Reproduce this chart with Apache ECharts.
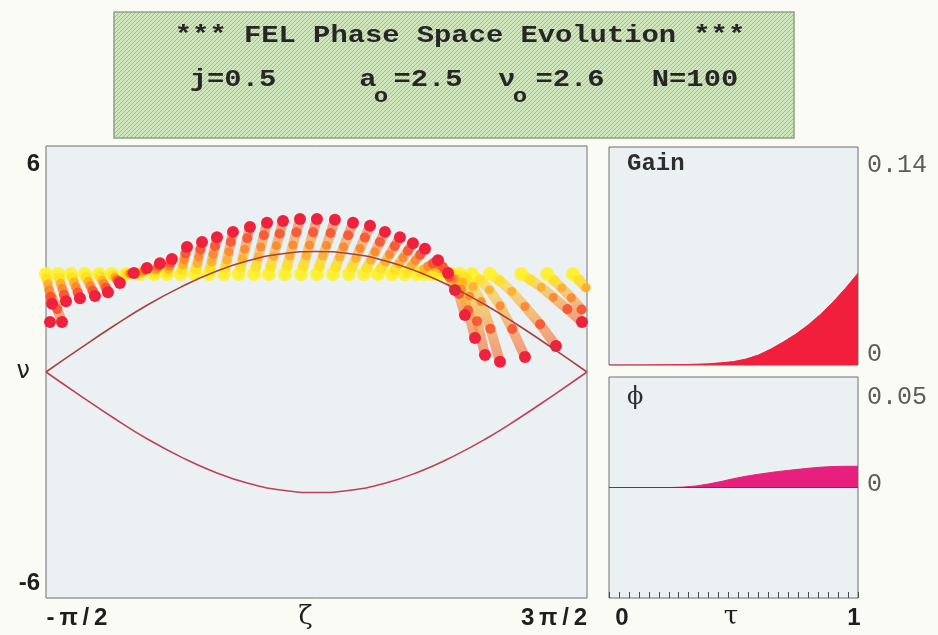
<!DOCTYPE html>
<html>
<head>
<meta charset="utf-8">
<script src="https://cdn.jsdelivr.net/npm/echarts@6/dist/echarts.min.js"></script>
<style>
  html, body { margin: 0; padding: 0; background: #fbfbf6; }
  #chart { width: 938px; height: 635px; }
</style>
</head>
<body>
<div id="chart"></div>
<script>
// ---- run parameters ----
const jCurrent = 0.5;
const a0 = 2.5;
const nu0 = 2.6;
const nSteps = 100;

// ---- phase-space axis range and tick labels ----
const ZETA_MIN = -Math.PI / 2;
const ZETA_MAX = 3 * Math.PI / 2;
const zetaTickLabels = ['-π/2', '3π/2'];
const nuTickLabels = ['-6', '6'];
const gainTickLabels = ['0', '0.14'];
const phiTickLabels = ['0', '0.05'];
const tauTickLabels = ['0', '1'];

// ---- separatrix ----
const sepZeta  = [-1.571, -1.178, -0.785, -0.393, 0, 0.393, 0.785, 1.178, 1.571, 1.963, 2.356, 2.749, 3.142, 3.534, 3.927, 4.320, 4.712];
const sepUpper = [0, 0.62, 1.22, 1.78, 2.26, 2.66, 2.96, 3.14, 3.20, 3.14, 2.96, 2.66, 2.26, 1.78, 1.22, 0.62, 0];
const sepLower = [0, -0.62, -1.22, -1.78, -2.26, -2.66, -2.96, -3.14, -3.20, -3.14, -2.96, -2.66, -2.26, -1.78, -1.22, -0.62, 0];

// ---- electron snapshots (phase ζ, energy ν) at successive times ----
const tauSteps = [0, 0.2, 0.4, 0.6, 0.8, 1.0];
const zetaT0 = [4.250, 4.550, -1.571, -1.431, -1.280, -1.118, -0.955, -0.804, -0.642, -0.479, -0.317, -0.166, -0.003, 0.160, 0.322, 0.496, 0.670, 0.845, 1.019, 1.205, 1.391, 1.576, 1.762, 1.948, 2.122, 2.285, 2.448, 2.598, 2.738, 2.831, 2.912, 3.005, 3.075, 3.144, 3.237, 3.377, 3.585, 3.950];
const zetaT1 = [4.330, 4.620, -1.560, -1.417, -1.264, -1.101, -0.939, -0.790, -0.628, -0.467, -0.307, -0.157, 0.008, 0.172, 0.336, 0.512, 0.689, 0.868, 1.043, 1.231, 1.419, 1.607, 1.797, 1.985, 2.159, 2.323, 2.484, 2.633, 2.775, 2.871, 2.952, 3.049, 3.126, 3.202, 3.307, 3.469, 3.700, 4.056];
const zetaT2 = [4.420, 4.700, -1.548, -1.401, -1.246, -1.080, -0.921, -0.774, -0.611, -0.452, -0.294, -0.147, 0.020, 0.187, 0.353, 0.531, 0.712, 0.895, 1.073, 1.262, 1.452, 1.645, 1.839, 2.029, 2.203, 2.369, 2.528, 2.675, 2.819, 2.919, 3.000, 3.101, 3.186, 3.271, 3.390, 3.580, 3.838, 4.182];
const zetaT3 = [4.530, -1.500, -1.534, -1.382, -1.225, -1.057, -0.900, -0.755, -0.593, -0.436, -0.280, -0.135, 0.034, 0.203, 0.371, 0.552, 0.738, 0.925, 1.105, 1.297, 1.489, 1.687, 1.885, 2.077, 2.251, 2.420, 2.577, 2.721, 2.867, 2.973, 3.054, 3.159, 3.254, 3.348, 3.483, 3.703, 3.992, 4.323];
const zetaT4 = [4.650, -1.440, -1.518, -1.361, -1.201, -1.030, -0.876, -0.734, -0.571, -0.417, -0.264, -0.122, 0.050, 0.222, 0.393, 0.576, 0.767, 0.960, 1.143, 1.337, 1.532, 1.735, 1.939, 2.133, 2.307, 2.479, 2.633, 2.775, 2.923, 3.034, 3.115, 3.225, 3.331, 3.436, 3.590, 3.844, 4.168, 4.485];
const zetaT5 = [-1.524, -1.385, -1.501, -1.339, -1.176, -1.002, -0.851, -0.712, -0.549, -0.398, -0.247, -0.108, 0.067, 0.241, 0.415, 0.601, 0.798, 0.996, 1.182, 1.379, 1.576, 1.785, 1.995, 2.192, 2.366, 2.540, 2.691, 2.831, 2.982, 3.098, 3.179, 3.295, 3.412, 3.528, 3.702, 3.992, 4.352, 4.654];

const nuT0 = [2.60, 2.60, 2.60, 2.60, 2.60, 2.60, 2.60, 2.60, 2.60, 2.60, 2.60, 2.60, 2.60, 2.60, 2.60, 2.60, 2.60, 2.60, 2.60, 2.60, 2.60, 2.60, 2.60, 2.60, 2.60, 2.60, 2.60, 2.60, 2.60, 2.60, 2.60, 2.60, 2.60, 2.60, 2.60, 2.60, 2.60, 2.60];
const nuT1 = [2.43, 2.44, 2.48, 2.49, 2.50, 2.51, 2.53, 2.56, 2.60, 2.62, 2.64, 2.66, 2.71, 2.73, 2.75, 2.77, 2.79, 2.80, 2.81, 2.82, 2.82, 2.82, 2.80, 2.79, 2.77, 2.75, 2.72, 2.70, 2.66, 2.70, 2.68, 2.64, 2.59, 2.55, 2.50, 2.45, 2.42, 2.45];
const nuT2 = [2.23, 2.24, 2.34, 2.36, 2.39, 2.41, 2.44, 2.52, 2.61, 2.65, 2.70, 2.73, 2.84, 2.88, 2.92, 2.97, 3.01, 3.05, 3.07, 3.08, 3.08, 3.08, 3.05, 3.02, 2.97, 2.92, 2.87, 2.82, 2.72, 2.80, 2.74, 2.62, 2.48, 2.38, 2.27, 2.18, 2.14, 2.25];
const nuT3 = [1.97, 1.98, 2.18, 2.22, 2.26, 2.29, 2.35, 2.47, 2.61, 2.68, 2.75, 2.81, 2.98, 3.05, 3.12, 3.19, 3.26, 3.32, 3.35, 3.37, 3.37, 3.36, 3.32, 3.28, 3.19, 3.12, 3.03, 2.96, 2.80, 2.86, 2.72, 2.47, 2.20, 2.02, 1.87, 1.76, 1.74, 1.98];
const nuT4 = [1.66, 1.67, 2.00, 2.05, 2.11, 2.16, 2.24, 2.42, 2.62, 2.72, 2.82, 2.90, 3.15, 3.25, 3.34, 3.45, 3.55, 3.63, 3.67, 3.71, 3.71, 3.69, 3.63, 3.57, 3.45, 3.34, 3.22, 3.11, 2.88, 2.80, 2.52, 2.07, 1.64, 1.35, 1.15, 1.14, 1.27, 1.67];
const nuT5 = [1.33, 1.33, 1.81, 1.88, 1.96, 2.02, 2.12, 2.36, 2.63, 2.76, 2.89, 3.00, 3.32, 3.45, 3.58, 3.72, 3.85, 3.96, 4.01, 4.06, 4.06, 4.04, 3.96, 3.88, 3.72, 3.58, 3.42, 3.27, 2.97, 2.63, 2.18, 1.51, 0.90, 0.45, 0.27, 0.40, 0.69, 1.33];

// ---- gain and optical phase versus τ ----
const tauGrid    = [0, 0.05, 0.1, 0.15, 0.2, 0.25, 0.3, 0.35, 0.4, 0.45, 0.5, 0.55, 0.6, 0.65, 0.7, 0.75, 0.8, 0.85, 0.9, 0.95, 1.0];
const gainValues = [0, 0, 0, 0, 0.0001, 0.0002, 0.0003, 0.0005, 0.0008, 0.0014, 0.0022, 0.0038, 0.0064, 0.0102, 0.0148, 0.0198, 0.0257, 0.0326, 0.0405, 0.0493, 0.059];
const phiValues  = [0, 0, 0, 0, 0, 0, 0.0002, 0.0007, 0.0016, 0.0027, 0.0040, 0.0051, 0.0060, 0.0068, 0.0075, 0.0081, 0.0087, 0.0092, 0.0095, 0.0096, 0.0096];

// ---- build series data ----
const zetaSnapshots = [zetaT0, zetaT1, zetaT2, zetaT3, zetaT4, zetaT5];
const nuSnapshots = [nuT0, nuT1, nuT2, nuT3, nuT4, nuT5];
const snapColors = ['#fff227', '#ffe020', '#ffaa20', '#ff7e24', '#f84c2e', '#ef213d'];
const snapSizes = [14, 11, 9, 9, 10, 12];
const snapOpacity = [0.85, 0.8, 0.8, 0.8, 0.85, 1];

const pairs = (xs, ys) => xs.map((x, i) => [x, ys[i]]);
const spaced = s => s.split('').join('\u2009');

// one faint band per electron, joining its snapshots (broken where the phase wraps)
const trailSeries = zetaT0.map((_, i) => {
  const pts = [];
  for (let k = 0; k < tauSteps.length; k++) {
    const z = zetaSnapshots[k][i];
    if (k > 0 && Math.abs(z - zetaSnapshots[k - 1][i]) > Math.PI) pts.push('-');
    pts.push([z, nuSnapshots[k][i]]);
  }
  const rising = nuT5[i] >= nuT0[i];
  return {
    type: 'line', xAxisIndex: 0, yAxisIndex: 0, symbol: 'none', silent: true, z: 1,
    connectNulls: false, data: pts,
    lineStyle: {
      width: 10, opacity: 0.6, cap: 'round',
      color: { type: 'linear', x: 0, y: rising ? 1 : 0, x2: 0, y2: rising ? 0 : 1,
        colorStops: [{ offset: 0, color: '#ffeb2a' }, { offset: 1, color: '#f5552e' }] }
    }
  };
});

const snapshotSeries = tauSteps.map((tau, k) => ({
  name: 'τ=' + tau,
  type: 'scatter',
  xAxisIndex: 0, yAxisIndex: 0,
  symbol: 'circle',
  symbolSize: snapSizes[k],
  itemStyle: { color: snapColors[k], opacity: snapOpacity[k] },
  data: pairs(zetaSnapshots[k], nuSnapshots[k]),
  z: 2 + k,
  silent: true
}));

// diagonal hatch used for the heading panel
function hatchCanvas() {
  const c = document.createElement('canvas');
  c.width = 4; c.height = 4;
  const g = c.getContext('2d');
  g.fillStyle = '#d0e6bd';
  g.fillRect(0, 0, 4, 4);
  g.fillStyle = '#9fbe90';
  for (let i = 0; i < 4; i++) g.fillRect(3 - i, i, 1, 1);
  return c;
}

const monoBold = { fontFamily: '"Liberation Mono", "DejaVu Sans Mono", monospace', fontWeight: 'bold' };
const labelSans = { fontFamily: '"Liberation Sans", Arial, sans-serif', fontWeight: 'bold', fontSize: 24, color: '#1e1e1e' };
const labelMono = { fontFamily: '"Liberation Mono", "DejaVu Sans Mono", monospace', fontSize: 25, color: '#5c5c5c' };

function titleText(str, x, y, size) {
  return {
    type: 'text', x: x, y: y, scaleX: 1.2, scaleY: 1, z: 20,
    style: Object.assign({ text: str, x: 0, y: 0, fontSize: size, fill: '#262626',
      align: 'center', verticalAlign: 'middle' }, monoBold)
  };
}

const chart = echarts.init(document.getElementById('chart'), null, { renderer: 'canvas' });

const option = {
  animation: false,
  backgroundColor: '#fbfbf6',
  title: [
    { text: 'Gain', left: 627, top: 152, padding: 0,
      textStyle: Object.assign({ fontSize: 24, color: '#2e2e2e' }, monoBold) },
    { text: 'ϕ', left: 627, top: 386, padding: 0,
      textStyle: { fontFamily: '"DejaVu Serif", serif', fontSize: 24, color: '#2e2e2e', fontWeight: 'normal' } }
  ],
  graphic: [
    { type: 'rect', z: 10,
      shape: { x: 114, y: 12, width: 680, height: 126 },
      style: { fill: { image: hatchCanvas(), repeat: 'repeat' }, stroke: '#8ca383', lineWidth: 1.5 } },
    titleText('*** FEL Phase Space Evolution ***', 460, 36, 24),
    titleText('j=' + jCurrent, 233, 80, 24),
    titleText('a', 368, 80, 24),
    titleText('o', 381, 97, 20),
    titleText('=' + a0.toFixed(1), 428, 80, 24),
    titleText('ν', 507, 80, 24),
    titleText('o', 520, 97, 20),
    titleText('=' + nu0.toFixed(1), 570, 80, 24),
    titleText('N=' + nSteps, 695, 80, 24)
  ],
  grid: [
    { left: 46, top: 146, width: 541, height: 452, show: true, backgroundColor: '#ebf0f3',
      borderColor: '#6f6f6f', borderWidth: 1, containLabel: false, outerBoundsMode: 'none' },
    { left: 609, top: 147, width: 249, height: 218, show: true, backgroundColor: '#ebf0f3',
      borderColor: '#6f6f6f', borderWidth: 1, containLabel: false, outerBoundsMode: 'none' },
    { left: 609, top: 377, width: 249, height: 221, show: true, backgroundColor: '#ebf0f3',
      borderColor: '#6f6f6f', borderWidth: 1, containLabel: false, outerBoundsMode: 'none' }
  ],
  xAxis: [
    { gridIndex: 0, type: 'value', min: ZETA_MIN, max: ZETA_MAX,
      splitLine: { show: false }, axisLine: { show: false, onZero: false }, axisTick: { show: false },
      name: 'ζ', nameLocation: 'middle', nameGap: 6, nameMoveOverlap: false,
      nameTextStyle: { fontFamily: '"DejaVu Serif", serif', fontSize: 26, color: '#1e1e1e', padding: [0, 22, 0, 0] },
      axisLabel: {
        customValues: [ZETA_MIN, ZETA_MAX], margin: 8,
        formatter: v => v < 0 ? '{l|' + spaced(zetaTickLabels[0]) + '}' : '{r|' + spaced(zetaTickLabels[1]) + '}',
        rich: {
          l: Object.assign({ padding: [0, 0, 0, 62] }, labelSans),
          r: Object.assign({ padding: [0, 66, 0, 0] }, labelSans)
        }
      } },
    { gridIndex: 1, type: 'value', min: 0, max: 1,
      splitLine: { show: false }, axisLine: { show: false, onZero: false }, axisTick: { show: false }, axisLabel: { show: false } },
    { gridIndex: 2, type: 'value', min: 0, max: 1, interval: 0.04,
      splitLine: { show: false }, axisLine: { show: false, onZero: false },
      axisTick: { show: true, inside: true, length: 6, lineStyle: { color: '#4a4a4a', width: 1 } },
      name: 'τ', nameLocation: 'middle', nameGap: 6, nameMoveOverlap: false,
      nameTextStyle: { fontFamily: '"DejaVu Serif", serif', fontSize: 26, color: '#1e1e1e', padding: [0, 5, 0, 0] },
      axisLabel: {
        customValues: [0, 1], margin: 8,
        formatter: v => v < 0.5 ? '{l|' + tauTickLabels[0] + '}' : '{r|' + tauTickLabels[1] + '}',
        rich: {
          l: Object.assign({ padding: [0, 0, 0, 26] }, labelSans),
          r: Object.assign({ padding: [0, 8, 0, 0] }, labelSans)
        }
      } }
  ],
  yAxis: [
    { gridIndex: 0, type: 'value', min: -6, max: 6,
      splitLine: { show: false }, axisLine: { show: false, onZero: false }, axisTick: { show: false },
      name: 'ν', nameLocation: 'middle', nameRotate: 0, nameGap: 16, nameMoveOverlap: false,
      nameTextStyle: { fontFamily: '"DejaVu Sans", sans-serif', fontSize: 24, color: '#1e1e1e' },
      axisLabel: {
        customValues: [-6, 6], margin: 6,
        formatter: v => v > 0 ? '{t|' + nuTickLabels[1] + '}' : '{b|' + nuTickLabels[0] + '}',
        rich: {
          t: Object.assign({ padding: [36, 0, 0, 0] }, labelSans),
          b: Object.assign({ padding: [0, 0, 30, 0] }, labelSans)
        }
      } },
    { gridIndex: 1, type: 'value', min: 0, max: 0.14, position: 'right',
      splitLine: { show: false }, axisLine: { show: false, onZero: false }, axisTick: { show: false },
      axisLabel: {
        customValues: [0, 0.14], margin: 9,
        formatter: v => v > 0 ? '{t|' + gainTickLabels[1] + '}' : '{b|' + gainTickLabels[0] + '}',
        rich: {
          t: Object.assign({ padding: [36, 0, 0, 0] }, labelMono),
          b: Object.assign({ padding: [0, 0, 22, 0] }, labelMono)
        }
      } },
    { gridIndex: 2, type: 'value', min: -0.05, max: 0.05, position: 'right',
      splitLine: { show: false }, axisLine: { show: false, onZero: false }, axisTick: { show: false },
      axisLabel: {
        customValues: [0, 0.05], margin: 9,
        formatter: v => v > 0.01 ? '{t|' + phiTickLabels[1] + '}' : '{b|' + phiTickLabels[0] + '}',
        rich: {
          t: Object.assign({ padding: [40, 0, 0, 0] }, labelMono),
          b: Object.assign({ padding: [0, 0, 6, 0] }, labelMono)
        }
      } }
  ],
  series: [
    ...trailSeries,
    ...snapshotSeries,
    { name: 'separatrix+', type: 'line', xAxisIndex: 0, yAxisIndex: 0, smooth: true, symbol: 'none',
      data: pairs(sepZeta, sepUpper), lineStyle: { color: '#a8403c', width: 1.6 }, z: 10, silent: true },
    { name: 'separatrix-', type: 'line', xAxisIndex: 0, yAxisIndex: 0, smooth: true, symbol: 'none',
      data: pairs(sepZeta, sepLower), lineStyle: { color: '#c0405a', width: 1.6 }, z: 10, silent: true },
    { name: 'Gain', type: 'line', xAxisIndex: 1, yAxisIndex: 1, smooth: false, symbol: 'none',
      data: pairs(tauGrid, gainValues), lineStyle: { color: '#f21f3c', width: 1 },
      areaStyle: { color: '#f21f3c', opacity: 1 }, silent: true },
    { name: 'phi', type: 'line', xAxisIndex: 2, yAxisIndex: 2, smooth: false, symbol: 'none',
      data: pairs(tauGrid, phiValues), lineStyle: { color: '#e6207c', width: 1 },
      areaStyle: { color: '#e6207c', opacity: 1, origin: 0 }, silent: true,
      markLine: { silent: true, symbol: 'none', label: { show: false },
        lineStyle: { color: '#4a4a4a', width: 1, type: 'solid' }, data: [{ yAxis: 0 }] } }
  ]
};

chart.setOption(option);
</script>
</body>
</html>
